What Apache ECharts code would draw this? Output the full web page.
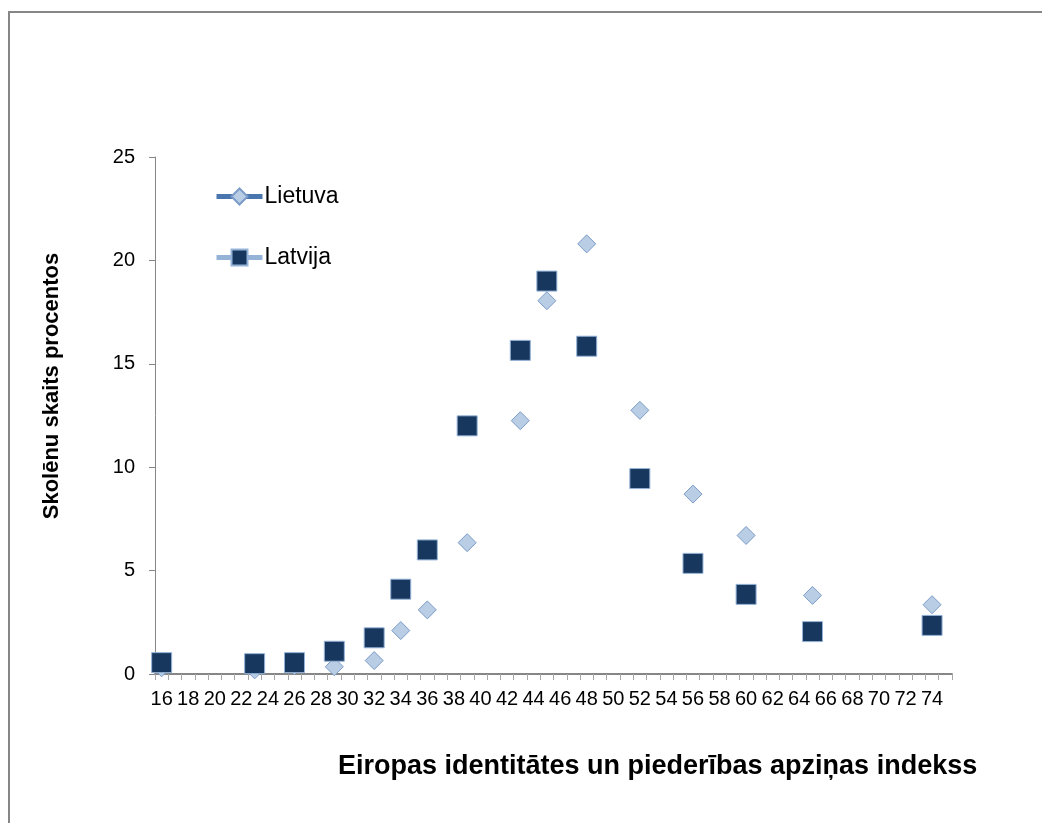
<!DOCTYPE html>
<html>
<head>
<meta charset="utf-8">
<script src="https://cdn.jsdelivr.net/npm/echarts@6/dist/echarts.min.js"></script>
<style>
    html, body { margin: 0; padding: 0; background: #fff; }
    #chart { width: 1042px; height: 823px; }
</style>
</head>
<body>
<div id="chart"></div>
<script>
//index categories on the x axis (one per unit, labels every 2nd)
const indexCategories = ["16", "17", "18", "19", "20", "21", "22", "23", "24", "25",
    "26", "27", "28", "29", "30", "31", "32", "33", "34", "35",
    "36", "37", "38", "39", "40", "41", "42", "43", "44", "45",
    "46", "47", "48", "49", "50", "51", "52", "53", "54", "55",
    "56", "57", "58", "59", "60", "61", "62", "63", "64", "65",
    "66", "67", "68", "69", "70", "71", "72", "73", "74", "75"];

//index values where the points sit
const pointIndex = ["16", "23", "26", "29", "32", "34", "36", "39", "43", "45", "48", "52", "56", "60", "65", "74"];

//percent of pupils
const lietuva = [0.3, 0.2, 0.4, 0.35, 0.65, 2.1, 3.1, 6.35, 12.25, 18.05, 20.8, 12.75, 8.7, 6.7, 3.8, 3.35];
const latvija = [0.55, 0.5, 0.55, 1.1, 1.75, 4.1, 6.0, 12.0, 15.65, 19.0, 15.85, 9.45, 5.35, 3.85, 2.05, 2.35];

//y axis ticks
const yTicks = { min: 0, max: 25, interval: 5 };

const pairs = vals => pointIndex.map((x, i) => [x, vals[i]]);

const axisGray = "#868686";
const labelFont = "'Liberation Sans Narrow', 'Liberation Sans', sans-serif";

const chart = echarts.init(document.getElementById("chart"), null, { renderer: "canvas" });
const option = {
    backgroundColor: "#fff",
    animation: false,
    grid: { left: 155, top: 157, right: 90, bottom: 149, containLabel: false },
    title: [
        {
            text: "Eiropas identitātes un piederības apziņas indekss",
            left: 333, top: 748,
            textStyle: { fontFamily: "'Liberation Sans', Arial, sans-serif", fontWeight: "bold", fontSize: 27, color: "#000" }
        }
    ],
    legend: {
        orient: "vertical",
        left: 214, top: 185, padding: 0,
        itemWidth: 46, itemHeight: 20, itemGap: 38,
        textStyle: { fontFamily: "'Liberation Sans', Arial, sans-serif", fontSize: 23, color: "#000", padding: [0, 0, 0, -3] },
        data: [
            { name: "Lietuva", lineStyle: { color: "#4a76b0", width: 5, opacity: 1 } },
            { name: "Latvija", lineStyle: { color: "#95b3d7", width: 5, opacity: 1 } }
        ]
    },
    xAxis: {
        type: "category",
        data: indexCategories,
        boundaryGap: true,
        axisLine: { lineStyle: { color: axisGray, width: 2 } },
        axisTick: { show: true, interval: 0, length: 6, lineStyle: { color: "#a6a6a6", width: 1 } },
        axisLabel: { interval: 1, margin: 15, fontFamily: labelFont, fontSize: 20, color: "#000" },
        splitLine: { show: false }
    },
    yAxis: {
        type: "value",
        min: yTicks.min, max: yTicks.max, interval: yTicks.interval,
        axisLine: { show: true, lineStyle: { color: axisGray, width: 1 } },
        axisTick: { show: true, length: 6, lineStyle: { color: axisGray } },
        axisLabel: { margin: 20, fontFamily: labelFont, fontSize: 20, color: "#000" },
        splitLine: { show: false }
    },
    graphic: [
        {
            type: "rect", silent: true, z: -1,
            shape: { x: 9, y: 12, width: 1100, height: 900 },
            style: { fill: null, stroke: axisGray, lineWidth: 2 }
        },
        {
            type: "text", silent: true,
            x: 41, y: 386, rotation: Math.PI / 2,
            style: {
                text: "Skolēnu skaits procentos",
                fontFamily: "'Liberation Sans', Arial, sans-serif", fontWeight: "bold", fontSize: 22,
                fill: "#000", align: "center", verticalAlign: "top"
            }
        }
    ],
    series: [
        {
            name: "Lietuva",
            type: "line",
            data: pairs(lietuva),
            showAllSymbol: true,
            symbol: "diamond",
            symbolSize: [18, 18],
            lineStyle: { width: 0, color: "#4a76b0" },
            itemStyle: { color: "#b9cde5", borderColor: "#7b9bc8", borderWidth: 1 }
        },
        {
            name: "Latvija",
            type: "line",
            data: pairs(latvija),
            showAllSymbol: true,
            symbol: "rect",
            symbolSize: [20, 20],
            lineStyle: { width: 0, color: "#95b3d7" },
            itemStyle: { color: "#17375e", borderColor: "#95b3d7", borderWidth: 1 }
        }
    ]
};
chart.setOption(option);
</script>
</body>
</html>
